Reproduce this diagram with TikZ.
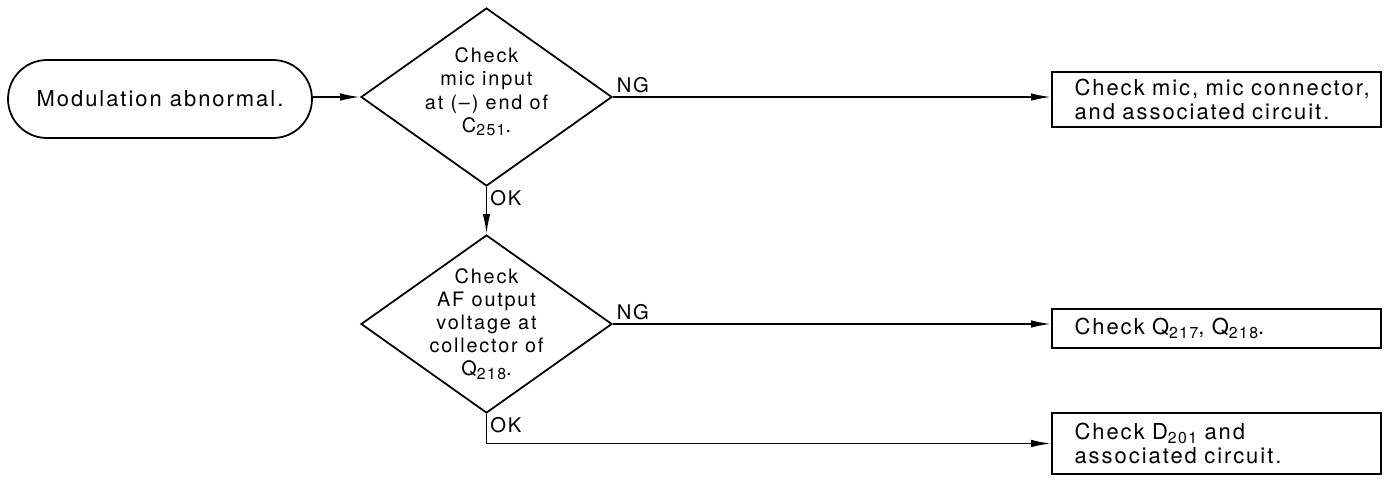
\documentclass[tikz,border=0pt]{standalone}
\usepackage{fontspec}
\setmainfont{TeX Gyre Heros}[LetterSpace=9]
\usetikzlibrary{shapes.geometric, arrows.meta, positioning, calc}
\newcommand{\lowsub}[1]{\raisebox{-0.35ex}{\fontsize{9}{9}\selectfont #1}}

\begin{document}
\begin{tikzpicture}[
    term/.style={draw, line width=1pt, rounded corners=0.78cm, minimum width=6.08cm,
                 minimum height=1.56cm, font=\fontsize{12.5}{13}\selectfont},
    check/.style={draw, diamond, line width=1pt, minimum width=5.02cm,
                  minimum height=3.56cm, inner sep=0pt},
    dtext/.style={align=center, font=\fontsize{11.3}{13.2}\selectfont},
    box/.style={draw, line width=1pt, minimum width=6.58cm, text width=5.98cm,
                inner xsep=0.3cm, align=left, font=\fontsize{12.5}{14}\selectfont},
    lbl/.style={font=\fontsize{11.5}{12}\selectfont, inner sep=2pt},
    arr/.style={-{Latex[length=4mm, width=1.5mm]}, line width=1pt},
]
    \useasboundingbox (0,0) rectangle (27.74,-9.58);

    % Start
    \node[term] (start) at (3.2,-1.98) {Modulation abnormal.};

    % First check
    \node[check] (chk1) at (9.73,-1.94) {};
    \node[dtext] (chk1txt) at ([yshift=1mm]chk1) {Check\\mic input\\at (--) end of\\C\lowsub{251}.};

    % Second check
    \node[check] (chk2) at (9.73,-6.48) {};
    \node[dtext] (chk2txt) at (chk2) {Check\\AF output\\voltage at\\collector of\\Q\lowsub{218}.};

    % Results
    \node[box, minimum height=1.1cm] (mic) at (24.33,-1.99) {\hspace*{1.5mm}Check mic, mic connector,\\\hspace*{1.5mm}and associated circuit.};
    \node[box, minimum height=0.78cm] (qchk) at (24.33,-6.57) {\hspace*{1.5mm}Check Q\lowsub{217}, Q\lowsub{218}.};
    \node[box, minimum height=1.22cm] (dchk) at (24.33,-8.87) {\hspace*{1.5mm}Check D\lowsub{201} and\\\hspace*{1.5mm}associated circuit.};

    % Arrows
    \draw[arr] (start.east |- chk1.west) -- (chk1.west);
    \draw[arr] (chk1.east) -- (chk1.east -| mic.west);
    \node[lbl, anchor=south west] (ng1) at (chk1.east) {NG};
    \draw[arr] (chk1.south) -- (chk2.north);
    \node[lbl, anchor=north west] (ok1) at (chk1.south) {OK};
    \draw[arr] (chk2.east) -- (chk2.east -| qchk.west);
    \node[lbl, anchor=south west] (ng2) at (chk2.east) {NG};
    \draw[arr] (chk2.south) |- (dchk.west);
    \node[lbl, anchor=north west] (ok2) at (chk2.south) {OK};
\end{tikzpicture}
\end{document}
